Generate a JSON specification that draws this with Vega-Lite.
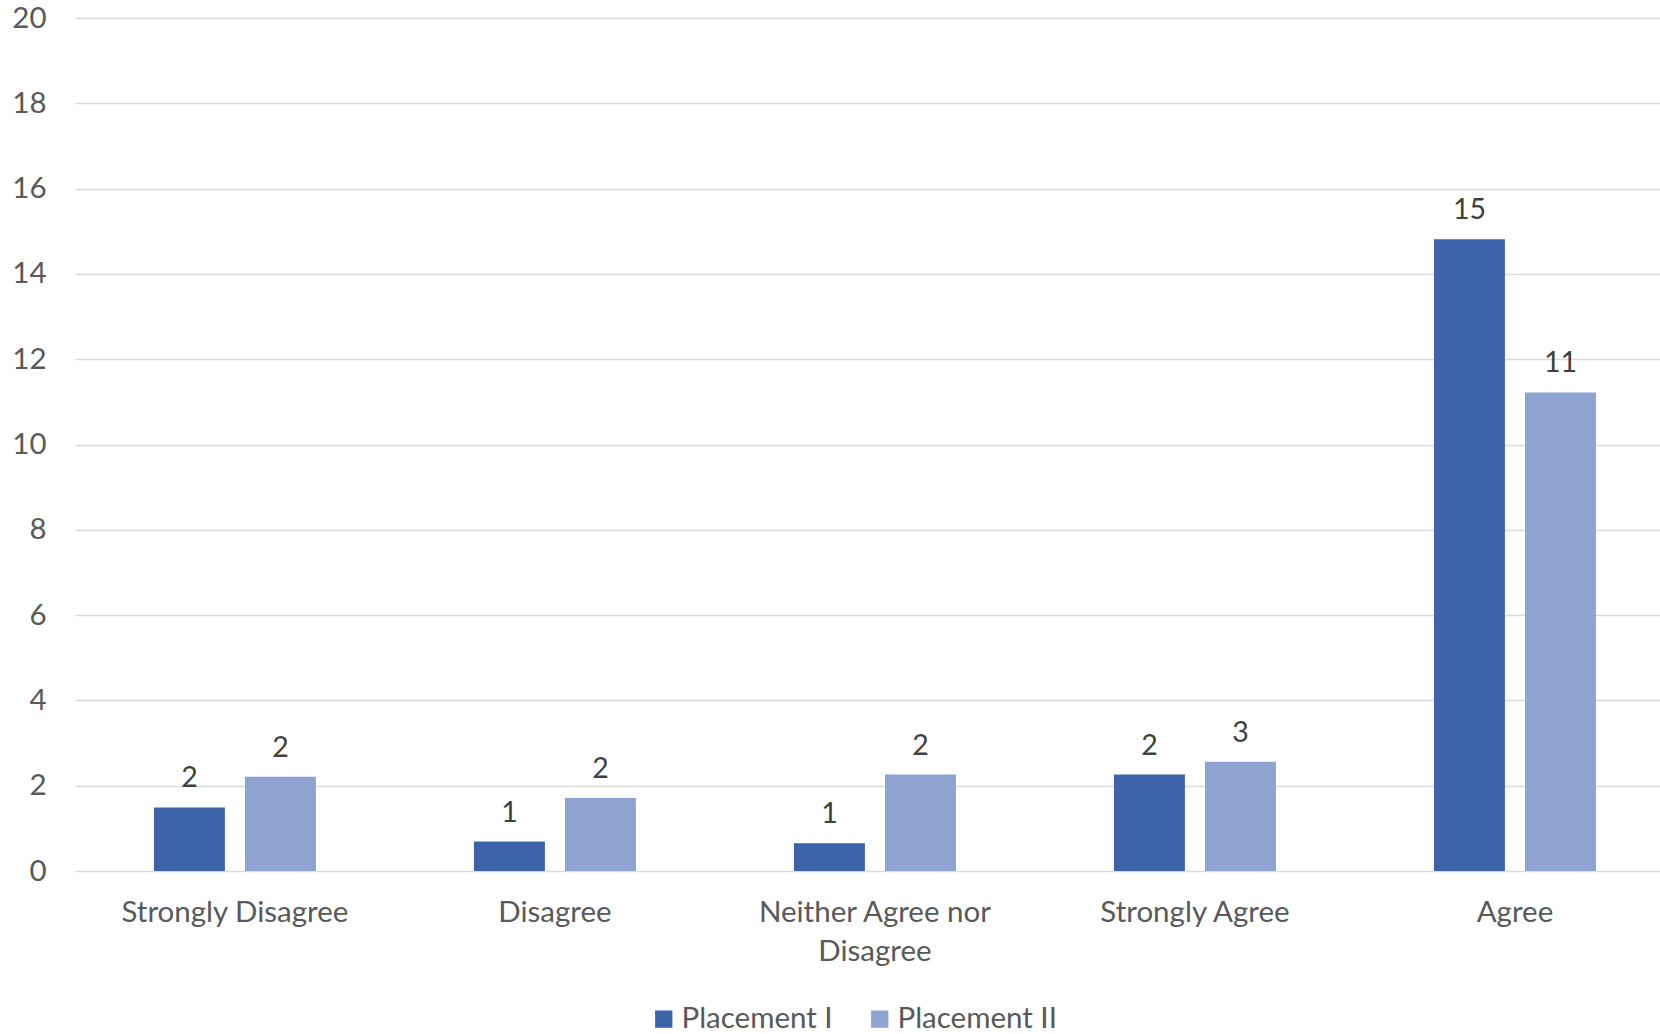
{
  "$schema": "https://vega.github.io/schema/vega-lite/v6.json",
  "width": 1585,
  "height": 853,
  "autosize": {"type": "none"},
  "padding": {"left": 75, "top": 18, "right": 0, "bottom": 163},
  "background": "white",
  "config": {"view": {"stroke": null}, "font": "Lato"},
  "data": {
    "values": [
      {"category": "Strongly Disagree", "series": "Placement I", "value": 1.49, "label": "2"},
      {"category": "Strongly Disagree", "series": "Placement II", "value": 2.21, "label": "2"},
      {"category": "Disagree", "series": "Placement I", "value": 0.69, "label": "1"},
      {"category": "Disagree", "series": "Placement II", "value": 1.71, "label": "2"},
      {"category": "Neither Agree nor Disagree", "series": "Placement I", "value": 0.65, "label": "1"},
      {"category": "Neither Agree nor Disagree", "series": "Placement II", "value": 2.26, "label": "2"},
      {"category": "Strongly Agree", "series": "Placement I", "value": 2.26, "label": "2"},
      {"category": "Strongly Agree", "series": "Placement II", "value": 2.56, "label": "3"},
      {"category": "Agree", "series": "Placement I", "value": 14.81, "label": "15"},
      {"category": "Agree", "series": "Placement II", "value": 11.22, "label": "11"}
    ]
  },
  "encoding": {
    "x": {
      "field": "category",
      "type": "nominal",
      "sort": ["Strongly Disagree", "Disagree", "Neither Agree nor Disagree", "Strongly Agree", "Agree"],
      "scale": {"paddingInner": 0.49375, "paddingOuter": 0.2234, "align": 0.552},
      "axis": {
        "title": null,
        "labelAngle": 0,
        "labelFontSize": 29.5,
        "labelColor": "#595959",
        "labelPadding": 27,
        "labelLimit": 500,
        "labelLineHeight": 39,
        "ticks": false,
        "domain": false,
        "labelExpr": "datum.label == 'Neither Agree nor Disagree' ? ['Neither Agree nor', 'Disagree'] : datum.label"
      }
    },
    "xOffset": {
      "field": "series",
      "type": "nominal",
      "sort": ["Placement I", "Placement II"],
      "scale": {"paddingInner": 0.22, "paddingOuter": 0}
    },
    "y": {
      "field": "value",
      "type": "quantitative",
      "scale": {"domain": [0, 20], "nice": false},
      "axis": {
        "title": null,
        "values": [0, 2, 4, 6, 8, 10, 12, 14, 16, 18, 20],
        "grid": true,
        "gridColor": "#d9d9d9",
        "gridWidth": 1.6,
        "ticks": false,
        "domain": false,
        "labelFontSize": 29.5,
        "labelColor": "#595959",
        "labelPadding": 29
      }
    }
  },
  "layer": [
    {
      "mark": {"type": "bar"},
      "encoding": {
        "color": {
          "field": "series",
          "type": "nominal",
          "scale": {"domain": ["Placement I", "Placement II"], "range": ["#3D64AB", "#8FA3D3"]},
          "legend": {
            "title": null,
            "orient": "none",
            "legendX": 574,
            "legendY": 986,
            "direction": "horizontal",
            "symbolType": "square",
            "symbolSize": 300,
            "symbolStrokeWidth": 0,
            "labelFontSize": 29.5,
            "labelColor": "#595959",
            "labelOffset": 3,
            "columnPadding": 32
          }
        }
      }
    },
    {
      "mark": {"type": "text", "baseline": "alphabetic", "dy": -20, "fontSize": 28.5, "color": "#404040"},
      "encoding": {
        "text": {"field": "label", "type": "nominal"}
      }
    }
  ]
}
